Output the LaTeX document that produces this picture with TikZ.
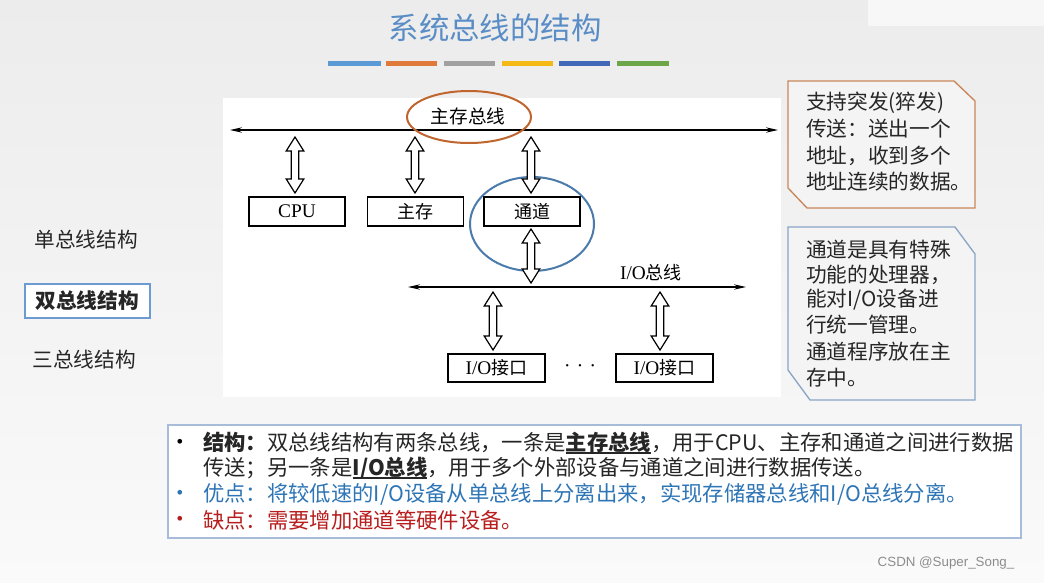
\documentclass[tikz,border=0pt]{standalone}
\usepackage{fontspec}
\setmainfont{Liberation Serif}
\newfontfamily\cjk{Noto Sans CJK SC}
\newfontfamily\lsans{Liberation Sans}
\usetikzlibrary{arrows.meta,calc}
\definecolor{bgtop}{HTML}{ECECEC}
\definecolor{bgbot}{HTML}{FAFAFA}
\definecolor{titlec}{HTML}{5A8DC6}
\definecolor{barA}{HTML}{5B9BD5}
\definecolor{barB}{HTML}{E07A3A}
\definecolor{barC}{HTML}{A0A0A0}
\definecolor{barD}{HTML}{F5B915}
\definecolor{barE}{HTML}{4169B8}
\definecolor{barF}{HTML}{6CA648}
\definecolor{orell}{HTML}{C0652E}
\definecolor{blell}{HTML}{4A7BAA}
\definecolor{callA}{HTML}{C8865A}
\definecolor{callB}{HTML}{8AA5C6}
\definecolor{selbox}{HTML}{6C9BD2}
\definecolor{botbox}{HTML}{A7BCD8}
\definecolor{goodc}{HTML}{2E75B6}
\definecolor{badc}{HTML}{B81E1E}
\newcommand\myul[1]{\setbox0\hbox{#1}\rlap{\rule[-2.6pt]{\wd0}{1.1pt}}\box0}
\newcommand\hollowarrow[2]{%
  \draw[harrow] let \p1=(#1), \p2=(#2) in
   (\x1,\y1) -- (\x1+6.6pt,\y1-10.5pt) -- (\x1+2.8pt,\y1-10.5pt) -- (\x1+2.8pt,\y2+10.5pt)
   -- (\x1+6.6pt,\y2+10.5pt) -- (\x1,\y2) -- (\x1-6.6pt,\y2+10.5pt) -- (\x1-2.8pt,\y2+10.5pt)
   -- (\x1-2.8pt,\y1-10.5pt) -- (\x1-6.6pt,\y1-10.5pt) -- cycle;}
\tikzset{
  lbl/.style={font=\fontsize{14.5}{16}\selectfont, inner sep=0pt},
  dbox/.style={draw, line width=0.9pt, minimum width=72pt, minimum height=21.75pt, inner sep=0pt, fill=white, font=\fontsize{14.5}{16}\selectfont},
  harrow/.style={draw=black, fill=white, line width=0.9pt, line join=miter},
  bus/.style={line width=0.9pt, {Stealth[length=9pt,width=4pt]}-{Stealth[length=9pt,width=4pt]}},
  ctext/.style={anchor=west, inner sep=0pt, font=\cjk\fontsize{15.5}{18}\selectfont, text=black!85},
  btext/.style={anchor=west, inner sep=0pt, font=\cjk\fontsize{16}{19}\selectfont, text=black!85},
  bull/.style={inner sep=0pt, font=\lsans\fontsize{13}{15}\selectfont},
  side/.style={inner sep=0pt, font=\cjk\fontsize{15.5}{18}\selectfont, text=black!85},
}
\begin{document}
\begin{tikzpicture}[x=0.75pt,y=-0.75pt]
\useasboundingbox (0,0) rectangle (1044,582);
\shade[top color=bgtop, bottom color=bgbot] (0,0) rectangle (1044,582);
\fill[white!60!bgtop] (868,0) rectangle (1044,26);
% title
\node[inner sep=0pt, text=titlec, font=\cjk\fontsize{22.8}{26}\selectfont] (title) at (495,28) {系统总线的结构};
\fill[barA] (328,61) rectangle (381,66);
\fill[barB] (386,61) rectangle (437,66);
\fill[barC] (444,61) rectangle (495,66);
\fill[barD] (502,61) rectangle (553,66);
\fill[barE] (559,61) rectangle (610,66);
\fill[barF] (617,61) rectangle (669,66);
% diagram panel
\fill[white] (223,98) rectangle (781,397);
% main bus
\coordinate (mbL) at (230,130);
\coordinate (mbR) at (778,130);
\draw[bus] (mbL) -- (mbR);
\node[lbl, font=\cjk\fontsize{14}{16}\selectfont] (mblabel) at (468,116) {主存总线};
\draw[orell, line width=1.5pt] (469,117) ellipse [x radius=46.5pt, y radius=19.5pt];
% boxes
\node[dbox] (cpu) at (297,211.5) {CPU};
\node[dbox, font=\cjk\fontsize{13.5}{16}\selectfont] (mem) at (415.5,211.5) {主存};
\node[dbox, font=\cjk\fontsize{13.5}{16}\selectfont] (chan) at (532,211.5) {通道};
\draw[blell, line width=1.5pt] (532,224) ellipse [x radius=46.5pt, y radius=35.25pt];
% arrows main bus
\coordinate (a1t) at (295,137); \coordinate (a1b) at (295,193);
\coordinate (a2t) at (415,137); \coordinate (a2b) at (415,193);
\coordinate (a3t) at (531,137); \coordinate (a3b) at (531,193);
\hollowarrow{a1t}{a1b}
\hollowarrow{a2t}{a2b}
\hollowarrow{a3t}{a3b}
% io bus
\coordinate (ioL) at (408,287);
\coordinate (ioR) at (746,287);
\draw[bus] (ioL) -- (ioR);
\node[lbl] (iolabel) at (651,273) {I/O{\cjk\fontsize{13.5}{16}\selectfont 总线}};
\coordinate (a4t) at (531,229); \coordinate (a4b) at (531,283);
\hollowarrow{a4t}{a4b}
\node[dbox, minimum width=72.75pt, minimum height=21pt] (io1) at (496.5,368) {I/O{\cjk\fontsize{13.5}{16}\selectfont 接口}};
\node[dbox, minimum width=72.75pt, minimum height=21pt] (io2) at (664.5,368) {I/O{\cjk\fontsize{13.5}{16}\selectfont 接口}};
\node[lbl, font=\fontsize{18}{18}\selectfont] (dots) at (580,366) {$\cdot\mkern1mu\cdot\mkern1mu\cdot$};
\coordinate (a5t) at (493,292); \coordinate (a5b) at (493,350);
\coordinate (a6t) at (660,292); \coordinate (a6b) at (660,350);
\hollowarrow{a5t}{a5b}
\hollowarrow{a6t}{a6b}
% callout 1
\draw[callA, fill=white!40!bgtop, line width=1pt] (788,81) -- (954,81) -- (975,101) -- (975,208) -- (807,208) -- (788,188) -- cycle;
\node[ctext] (c1a) at (806,103) {支持突发(猝发)};
\node[ctext] (c1b) at (806,129) {传送：送出一个};
\node[ctext] (c1c) at (806,156) {地址，收到多个};
\node[ctext] (c1d) at (806,182) {地址连续的数据。};
% callout 2
\draw[callB, fill=white!40!bgtop, line width=1pt] (788,227) -- (955,227) -- (975,254) -- (975,400) -- (810,400) -- (788,370) -- cycle;
\node[ctext] (c2a) at (806,250) {通道是具有特殊};
\node[ctext] (c2b) at (806,275) {功能的处理器，};
\node[ctext] (c2c) at (806,300) {能对I/O设备进};
\node[ctext] (c2d) at (806,325) {行统一管理。};
\node[ctext] (c2e) at (806,352) {通道程序放在主};
\node[ctext] (c2f) at (806,378) {存中。};
% side labels
\node[side] (s1) at (86,240) {单总线结构};
\draw[selbox, fill=white, line width=1.5pt] (25,284) rectangle (150,318);
\node[side, font=\cjk\bfseries\fontsize{15.5}{18}\selectfont] (s2) at (87,301) {双总线结构};
\node[side] (s3) at (84,360) {三总线结构};
% bottom box
\draw[botbox, fill=white, line width=1pt] (168,425) rectangle (1021,538);
\node[bull] (b1) at (180,443) {•};
\node[bull, text=goodc] (b3) at (180,494) {•};
\node[bull, text=badc] (b4) at (180,520) {•};
\node[btext] (l1) at (203,443) {{\bfseries 结构：}双总线结构有两条总线，一条是\myul{\bfseries 主存总线}，用于CPU、主存和通道之间进行数据};
\node[btext] (l2) at (203,468) {传送；另一条是\myul{\bfseries I/O总线}，用于多个外部设备与通道之间进行数据传送。};
\node[btext, text=goodc] (l3) at (203,494) {优点：将较低速的I/O设备从单总线上分离出来，实现存储器总线和I/O总线分离。};
\node[btext, text=badc] (l4) at (203,520) {缺点：需要增加通道等硬件设备。};
% watermark
\node[inner sep=0pt, text=black!45, font=\lsans\fontsize{10}{12}\selectfont] (wm) at (946,563) {CSDN @Super\_Song\_};
\end{tikzpicture}
\end{document}
